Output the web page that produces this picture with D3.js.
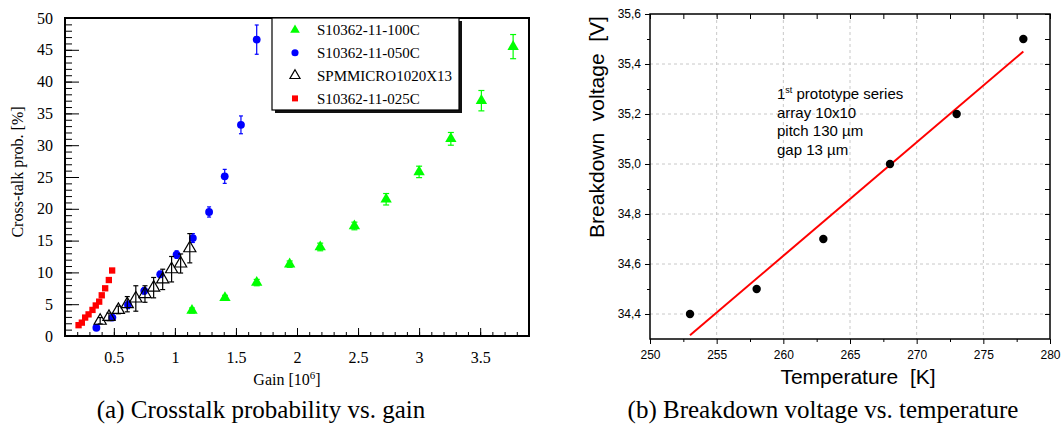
<!DOCTYPE html>
<html>
<head>
<meta charset="utf-8">
<script src="https://cdn.jsdelivr.net/npm/d3@7"></script>
<style>
	body { margin: 0; background: #fff; }
	svg { display: block; }
</style>
</head>
<body>
<div id="container"></div>
<script>
// 1. Access the data

// (a) Crosstalk probability vs. gain
const seriesNames = ["S10362-11-100C", "S10362-11-050C", "SPMMICRO1020X13", "S10362-11-025C"]

const gain100 = [1.14, 1.41, 1.67, 1.94, 2.19, 2.47, 2.73, 3.0, 3.26, 3.51, 3.77]
const ct100 = [4.0, 6.0, 8.4, 11.3, 14.0, 17.3, 21.5, 25.8, 31.0, 37.0, 45.5]
const err100 = [0.4, 0.4, 0.5, 0.5, 0.6, 0.6, 0.9, 0.9, 1.0, 1.6, 1.9]

const gain050 = [0.357, 0.488, 0.616, 0.749, 0.88, 1.014, 1.147, 1.28, 1.408, 1.541, 1.67]
const ct050 = [1.3, 2.9, 4.9, 7.1, 9.7, 12.8, 15.4, 19.5, 25.1, 33.2, 46.6]
const err050 = [0.3, 0.4, 0.6, 0.5, 0.5, 0.6, 0.7, 0.8, 1.1, 1.4, 2.3]

const gainSpm = [0.388, 0.46, 0.537, 0.61, 0.68, 0.755, 0.826, 0.9, 0.973, 1.047, 1.122]
const ctSpm = [2.4, 3.0, 4.1, 5.0, 5.9, 6.6, 7.6, 8.9, 10.5, 11.4, 13.8]
const errSpm = [0.5, 0.6, 0.6, 1.2, 2.0, 1.3, 1.6, 1.6, 2.0, 1.5, 2.3]

const gain025 = [0.211, 0.238, 0.265, 0.293, 0.325, 0.352, 0.38, 0.401, 0.429, 0.459, 0.486]
const ct025 = [1.7, 2.1, 2.9, 3.4, 4.1, 4.8, 5.4, 6.4, 7.5, 8.8, 10.3]
const err025 = [0.1, 0.1, 0.1, 0.1, 0.1, 0.1, 0.1, 0.2, 0.2, 0.2, 0.3]

const gainTicks = [0.5, 1, 1.5, 2, 2.5, 3, 3.5]
const ctTicks = [0, 5, 10, 15, 20, 25, 30, 35, 40, 45, 50]

// (b) Breakdown voltage vs. temperature
const temperature = [253, 258, 263, 268, 273, 278]
const breakdown = [34.4, 34.5, 34.7, 35.0, 35.2, 35.5]
const fitTemperature = [253, 278]
const fitBreakdown = [34.315, 35.45]

const tempTicks = [250, 255, 260, 265, 270, 275, 280]
const tempMinorTicks = [252.5, 257.5, 262.5, 267.5, 272.5, 277.5]
const vbdTicks = [34.4, 34.6, 34.8, 35.0, 35.2, 35.4, 35.6]
const vbdMinorTicks = [34.5, 34.7, 34.9, 35.1, 35.3, 35.5]

const noteLines = ["array 10x10", "pitch 130 µm", "gap 13 µm"]

// 2. Create chart dimensions
const width = 1064
const height = 426

const boxA = { left: 65, right: 529, top: 18, bottom: 336 }
const boxB = { left: 650, right: 1050, top: 14, bottom: 339 }

const serif = "'Liberation Serif', 'Times New Roman', serif"
const sans = "'Liberation Sans', Arial, sans-serif"
const gap = "\u00a0 "

// 3. Draw canvas
const svg = d3.select("#container")
	.append("svg")
	.attr("width", width)
	.attr("height", height)
	.attr("viewBox", [0, 0, width, height])

const boundsA = svg.append("g")
const boundsB = svg.append("g")

// 4. Create scales
const xA = d3.scaleLinear()
	.domain([0.1, 3.9])
	.range([boxA.left, boxA.right])

const yA = d3.scaleLinear()
	.domain([0, 50])
	.range([boxA.bottom, boxA.top])

const xB = d3.scaleLinear()
	.domain([250, 280])
	.range([boxB.left, boxB.right])

const yB = d3.scaleLinear()
	.domain([34.3, 35.6])
	.range([boxB.bottom, boxB.top])

const commaFormat = d3.formatLocale({ decimal: ",", thousands: ".", grouping: [3], currency: ["", ""] }).format(".1f")

// 5. Draw data

// --- chart (a)
const seriesA = [
	{ name: seriesNames[0], x: gain100, y: ct100, err: err100, symbol: d3.symbolTriangle, size: 56, legendSize: 40, fill: "#00ff00", stroke: "#00ff00", cap: 3 },
	{ name: seriesNames[1], x: gain050, y: ct050, err: err050, symbol: d3.symbolCircle, size: 48, legendSize: 40, fill: "#0000ff", stroke: "#0000ff", cap: 2 },
	{ name: seriesNames[2], x: gainSpm, y: ctSpm, err: errSpm, symbol: d3.symbolTriangle, size: 64, legendSize: 44, fill: "none", stroke: "#000", cap: 2.5 },
	{ name: seriesNames[3], x: gain025, y: ct025, err: err025, symbol: d3.symbolSquare, size: 40, legendSize: 36, fill: "#ff0000", stroke: "#ff0000", cap: 0 },
]

seriesA.forEach(s => {
	const points = s.x.map((g, i) => ({ x: g, y: s.y[i], e: s.err[i] }))
	const group = boundsA.append("g").attr("class", "series")

	const bars = group.selectAll(".bar")
		.data(points)
		.join("g")
		.attr("class", "bar")
		.attr("stroke", s.stroke)
		.attr("stroke-width", 1.2)

	bars.append("line")
		.attr("x1", d => xA(d.x))
		.attr("x2", d => xA(d.x))
		.attr("y1", d => yA(d.y - d.e))
		.attr("y2", d => yA(d.y + d.e))

	if (s.cap > 0) {
		bars.append("line")
			.attr("x1", d => xA(d.x) - s.cap)
			.attr("x2", d => xA(d.x) + s.cap)
			.attr("y1", d => yA(d.y + d.e))
			.attr("y2", d => yA(d.y + d.e))
		bars.append("line")
			.attr("x1", d => xA(d.x) - s.cap)
			.attr("x2", d => xA(d.x) + s.cap)
			.attr("y1", d => yA(d.y - d.e))
			.attr("y2", d => yA(d.y - d.e))
	}

	group.selectAll(".mark")
		.data(points)
		.join("path")
		.attr("class", "mark")
		.attr("transform", d => `translate(${xA(d.x)},${yA(d.y)})`)
		.attr("d", d3.symbol(s.symbol, s.size))
		.attr("fill", s.fill)
		.attr("stroke", s.fill === "none" ? s.stroke : "none")
		.attr("stroke-width", 1.2)
})

// --- chart (b)
const points = temperature.map((t, i) => ({ t, v: breakdown[i] }))

// grid
boundsB.append("g")
	.selectAll("line")
	.data(tempTicks.slice(1, -1))
	.join("line")
	.attr("x1", d => xB(d))
	.attr("x2", d => xB(d))
	.attr("y1", boxB.top)
	.attr("y2", boxB.bottom)
	.attr("stroke", "#c8c8c8")
	.attr("stroke-dasharray", "3,3")

boundsB.append("g")
	.selectAll("line")
	.data(vbdTicks.slice(0, -1))
	.join("line")
	.attr("x1", boxB.left)
	.attr("x2", boxB.right)
	.attr("y1", d => yB(d))
	.attr("y2", d => yB(d))
	.attr("stroke", "#c8c8c8")
	.attr("stroke-dasharray", "3,3")

const fitLine = d3.line()
	.x(d => xB(d[0]))
	.y(d => yB(d[1]))

boundsB.append("path")
	.datum(fitTemperature.map((t, i) => [t, fitBreakdown[i]]))
	.attr("d", fitLine)
	.attr("fill", "none")
	.attr("stroke", "#ff0000")
	.attr("stroke-width", 2)

boundsB.selectAll(".dot")
	.data(points)
	.join("circle")
	.attr("class", "dot")
	.attr("cx", d => xB(d.t))
	.attr("cy", d => yB(d.v))
	.attr("r", 4.2)
	.attr("fill", "#000")

// 6. Draw peripherals (axes, labels, legends)

// --- chart (a) axes
const styleAxis = (g, family, size) => {
	g.select(".domain").remove()
	g.attr("font-family", family).attr("font-size", size)
	g.selectAll("line").attr("stroke", "#000").attr("stroke-width", 1)
}

boundsA.append("g")
	.attr("transform", `translate(0,${boxA.bottom})`)
	.call(d3.axisBottom(xA).tickValues(d3.range(2, 39).map(d => d / 10)).tickSize(-4).tickFormat(""))
	.call(g => styleAxis(g, serif, 16))

boundsA.append("g")
	.attr("transform", `translate(0,${boxA.bottom})`)
	.call(d3.axisBottom(xA).tickValues(gainTicks).tickSize(-8).tickPadding(16).tickFormat(d => d))
	.call(g => styleAxis(g, serif, 16))

boundsA.append("g")
	.attr("transform", `translate(${boxA.left},0)`)
	.call(d3.axisLeft(yA).tickValues(d3.range(0, 51)).tickSize(-7).tickFormat(""))
	.call(g => styleAxis(g, serif, 16))

boundsA.append("g")
	.attr("transform", `translate(${boxA.left},0)`)
	.call(d3.axisLeft(yA).tickValues(ctTicks).tickSize(-14).tickPadding(12).tickFormat(d => d))
	.call(g => styleAxis(g, serif, 16))

boundsA.append("rect")
	.attr("x", boxA.left)
	.attr("y", boxA.top)
	.attr("width", boxA.right - boxA.left)
	.attr("height", boxA.bottom - boxA.top)
	.attr("fill", "none")
	.attr("stroke", "#000")
	.attr("stroke-width", 2)

const gainLabel = boundsA.append("text")
	.attr("x", 287)
	.attr("y", 385)
	.attr("text-anchor", "middle")
	.attr("font-family", serif)
	.attr("font-size", 16)
gainLabel.append("tspan").text("Gain [10")
gainLabel.append("tspan").attr("dy", -6).attr("font-size", 11).text("6")
gainLabel.append("tspan").attr("dy", 6).text("]")

boundsA.append("text")
	.attr("transform", "translate(17,172) rotate(-90)")
	.attr("dy", "0.35em")
	.attr("text-anchor", "middle")
	.attr("font-family", serif)
	.attr("font-size", 16)
	.text("Cross-talk prob. [%]")

// legend
const legend = boundsA.append("g").attr("transform", "translate(272,18)")

legend.append("rect")
	.attr("x", 3)
	.attr("y", 3)
	.attr("width", 187)
	.attr("height", 92)
	.attr("fill", "#111")

legend.append("rect")
	.attr("width", 187)
	.attr("height", 92)
	.attr("fill", "#fff")
	.attr("stroke", "#000")
	.attr("stroke-width", 1.2)

const legendRows = legend.selectAll(".row")
	.data(seriesA)
	.join("g")
	.attr("class", "row")
	.attr("transform", (d, i) => `translate(0,${12 + i * 22.8})`)

legendRows.append("path")
	.attr("transform", "translate(23,0)")
	.attr("d", d => d3.symbol(d.symbol, d.legendSize)())
	.attr("fill", d => d.fill)
	.attr("stroke", d => d.fill === "none" ? d.stroke : "none")
	.attr("stroke-width", 1.2)

legendRows.append("text")
	.attr("x", 45)
	.attr("dy", "0.35em")
	.attr("font-family", serif)
	.attr("font-size", 15)
	.text(d => d.name)

// --- chart (b) axes
boundsB.append("g")
	.attr("transform", `translate(0,${boxB.bottom})`)
	.call(d3.axisBottom(xB).tickValues(tempTicks).tickSize(5).tickPadding(6).tickFormat(d => d))
	.call(g => styleAxis(g, sans, 12))

boundsB.append("g")
	.attr("transform", `translate(0,${boxB.bottom})`)
	.call(d3.axisBottom(xB).tickValues(tempMinorTicks).tickSize(3).tickFormat(""))
	.call(g => styleAxis(g, sans, 12))

boundsB.append("g")
	.attr("transform", `translate(0,${boxB.top})`)
	.call(d3.axisTop(xB).tickValues(tempTicks.concat(tempMinorTicks)).tickSize(-5).tickFormat(""))
	.call(g => styleAxis(g, sans, 12))

boundsB.append("g")
	.attr("transform", `translate(${boxB.left},0)`)
	.call(d3.axisLeft(yB).tickValues(vbdTicks).tickSize(5).tickPadding(4).tickFormat(commaFormat))
	.call(g => styleAxis(g, sans, 12))

boundsB.append("g")
	.attr("transform", `translate(${boxB.left},0)`)
	.call(d3.axisLeft(yB).tickValues(vbdMinorTicks).tickSize(3).tickFormat(""))
	.call(g => styleAxis(g, sans, 12))

boundsB.append("g")
	.attr("transform", `translate(${boxB.right},0)`)
	.call(d3.axisRight(yB).tickValues(vbdTicks.concat(vbdMinorTicks)).tickSize(-5).tickFormat(""))
	.call(g => styleAxis(g, sans, 12))

boundsB.append("rect")
	.attr("x", boxB.left)
	.attr("y", boxB.top)
	.attr("width", boxB.right - boxB.left)
	.attr("height", boxB.bottom - boxB.top)
	.attr("fill", "none")
	.attr("stroke", "#000")
	.attr("stroke-width", 1.5)

boundsB.append("text")
	.attr("x", 858)
	.attr("y", 384)
	.attr("text-anchor", "middle")
	.attr("font-family", sans)
	.attr("font-size", 21)
	.text(`Temperature${gap}[K]`)

boundsB.append("text")
	.attr("transform", "translate(597,127) rotate(-90)")
	.attr("dy", "0.35em")
	.attr("text-anchor", "middle")
	.attr("font-family", sans)
	.attr("font-size", 21)
	.text(`Breakdown${gap}voltage${gap}[V]`)

// annotation
const note = boundsB.append("text")
	.attr("font-family", sans)
	.attr("font-size", 15)

const firstLine = note.append("tspan").attr("x", 777).attr("y", 99)
firstLine.append("tspan").text("1")
firstLine.append("tspan").attr("dy", -6).attr("font-size", 9).text("st")
firstLine.append("tspan").attr("dy", 6).text(" prototype series")

noteLines.forEach((line, i) => {
	note.append("tspan")
		.attr("x", 777)
		.attr("y", 117.5 + i * 18.5)
		.text(line)
})

// captions
svg.append("text")
	.attr("x", 261)
	.attr("y", 418)
	.attr("text-anchor", "middle")
	.attr("font-family", serif)
	.attr("font-size", 25)
	.text("(a) Crosstalk probability vs. gain")

svg.append("text")
	.attr("x", 823)
	.attr("y", 418)
	.attr("text-anchor", "middle")
	.attr("font-family", serif)
	.attr("font-size", 25)
	.text("(b) Breakdown voltage vs. temperature")
</script>
</body>
</html>
